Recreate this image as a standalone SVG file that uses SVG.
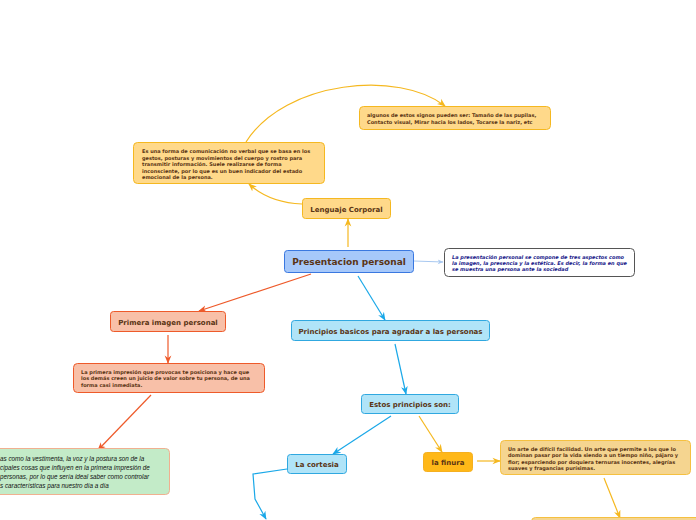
<svg xmlns="http://www.w3.org/2000/svg" width="696" height="520" viewBox="0 0 696 520">
<defs>
<style>
.t{font-family:"DejaVu Sans",Verdana,sans-serif;font-weight:bold;fill:#5a3414}
.s{font-family:"DejaVu Sans",Verdana,sans-serif;font-weight:bold;fill:#5a3414;font-size:5px}
.l{fill:none;stroke-width:1.2}
</style>
<marker id="ao" viewBox="0 0 10 10" refX="9" refY="5" markerWidth="7" markerHeight="7" orient="auto"><path d="M0,1 L10,5 L0,9 L3,5z" fill="#f5b820"/></marker>
<marker id="ar" viewBox="0 0 10 10" refX="9" refY="5" markerWidth="7" markerHeight="7" orient="auto"><path d="M0,1 L10,5 L0,9 L3,5z" fill="#ee5a2a"/></marker>
<marker id="ab" viewBox="0 0 10 10" refX="9" refY="5" markerWidth="7" markerHeight="7" orient="auto"><path d="M0,1 L10,5 L0,9 L3,5z" fill="#1aa8e8"/></marker>
<marker id="al" viewBox="0 0 10 10" refX="9" refY="5" markerWidth="5" markerHeight="5" orient="auto"><path d="M0,1 L10,5 L0,9 L3,5z" fill="#a8c8f0"/></marker>
</defs>
<rect width="696" height="520" fill="#fff"/>
<g id="connectors">
<path class="l" stroke="#f5b820" d="M348,247 L348,219" marker-end="url(#ao)"/>
<path class="l" stroke="#f5b820" d="M302,204 C280,203 262,196 249,184" marker-end="url(#ao)"/>
<path class="l" stroke="#f5b820" d="M246,142 C285,80 400,70 445,106" marker-end="url(#ao)"/>
<path class="l" stroke="#a8c8f0" d="M414,261 L443,262" marker-end="url(#al)"/>
<path class="l" stroke="#ee5a2a" d="M311,274 L199,311" marker-end="url(#ar)"/>
<path class="l" stroke="#1aa8e8" d="M358,276 L385,320" marker-end="url(#ab)"/>
<path class="l" stroke="#ee5a2a" d="M168,335 L168,363" marker-end="url(#ar)"/>
<path class="l" stroke="#ee5a2a" d="M151,395 L98,450" marker-end="url(#ar)"/>
<path class="l" stroke="#1aa8e8" d="M395,344 L406,394" marker-end="url(#ab)"/>
<path class="l" stroke="#1aa8e8" d="M391,416 L333,454" marker-end="url(#ab)"/>
<path class="l" stroke="#f5b820" d="M419,416 L442,452" marker-end="url(#ao)"/>
<path class="l" stroke="#f5b820" d="M477,461 L500,461" marker-end="url(#ao)"/>
<path class="l" stroke="#f5b820" d="M604,478 L620,518" marker-end="url(#ao)"/>
<path class="l" stroke="#1aa8e8" d="M287,469 L253,474 L255,499 L266,519" marker-end="url(#ab)"/>
</g>
<g id="n-presentacion">
<rect x="284.5" y="250.5" width="129" height="22" rx="3" fill="#a6c8fa" stroke="#3a78e0"/>
<text class="t" x="349" y="265" font-size="9" text-anchor="middle">Presentacion personal</text>
</g>
<g id="n-pres-desc">
<rect x="444.5" y="248.5" width="190" height="28" rx="4" fill="#fff" stroke="#555"/>
<text font-family="DejaVu Sans,Verdana,sans-serif" font-weight="bold" font-style="italic" font-size="5" fill="#1a1a8a"><tspan x="452" y="259">La presentación personal se compone de tres aspectos como</tspan><tspan x="452" y="265">la imagen, la presencia y la estética. Es decir, la forma en que</tspan><tspan x="452" y="271">se muestra una persona ante la sociedad</tspan></text>
</g>
<g id="n-lenguaje">
<rect x="302.5" y="198.5" width="88" height="20" rx="3" fill="#ffd98a" stroke="#f5b820"/>
<text class="t" x="346.5" y="211.5" font-size="7" text-anchor="middle">Lenguaje Corporal</text>
</g>
<g id="n-lenguaje-desc">
<rect x="133.5" y="142.5" width="191" height="41" rx="4" fill="#ffd98a" stroke="#f5b820"/>
<text class="s"><tspan x="142" y="153">Es una forma de comunicación no verbal que se basa en los</tspan><tspan x="142" y="159.5">gestos, posturas y movimientos del cuerpo y rostro para</tspan><tspan x="142" y="166">transmitir información. Suele realizarse de forma</tspan><tspan x="142" y="172.5">inconsciente, por lo que es un buen indicador del estado</tspan><tspan x="142" y="179">emocional de la persona.</tspan></text>
</g>
<g id="n-algunos">
<rect x="359.5" y="106.5" width="191" height="23" rx="4" fill="#ffd98a" stroke="#f5b820"/>
<text class="s"><tspan x="367" y="117">algunos de estos signos pueden ser: Tamaño de las pupilas,</tspan><tspan x="367" y="123.5">Contacto visual, Mirar hacia los lados, Tocarse la nariz, etc</tspan></text>
</g>
<g id="n-primera">
<rect x="110.5" y="311.5" width="115" height="20" rx="3" fill="#f8c0a8" stroke="#ee5a2a"/>
<text class="t" x="168" y="324.5" font-size="7" text-anchor="middle">Primera imagen personal</text>
</g>
<g id="n-primera-desc">
<rect x="73.5" y="363.5" width="191" height="29" rx="4" fill="#f8c0a8" stroke="#ee5a2a"/>
<text class="s"><tspan x="81" y="373.5">La primera impresión que provocas te posiciona y hace que</tspan><tspan x="81" y="380">los demás creen un juicio de valor sobre tu persona, de una</tspan><tspan x="81" y="386.5">forma casi inmediata.</tspan></text>
</g>
<g id="n-green">
<rect x="-5.5" y="448.5" width="175" height="46" rx="4" fill="#c3ebc8" stroke="#f0b090"/>
<text font-family="Liberation Sans,Arial,sans-serif" font-style="italic" font-size="6.3" fill="#111"><tspan x="0" y="461">as como la vestimenta, la voz y la postura son de la</tspan><tspan x="0" y="470">cipales cosas que influyen en la primera impresión de</tspan><tspan x="0" y="479">personas, por lo que sería ideal saber como controlar</tspan><tspan x="0" y="488">s características para nuestro día a día</tspan></text>
</g>
<g id="n-principios">
<rect x="291.5" y="320.5" width="198" height="20" rx="3" fill="#b0e4f8" stroke="#30a8e0"/>
<text class="t" x="390.5" y="333.5" font-size="7" text-anchor="middle">Principios basicos para agradar a las personas</text>
</g>
<g id="n-estos">
<rect x="361.5" y="394.5" width="97" height="19" rx="3" fill="#b0e4f8" stroke="#30a8e0"/>
<text class="t" x="410" y="407" font-size="7" text-anchor="middle">Estos principios son:</text>
</g>
<g id="n-cortesia">
<rect x="287.5" y="454.5" width="59" height="19" rx="3" fill="#b0e4f8" stroke="#30a8e0"/>
<text class="t" x="317" y="467" font-size="7" text-anchor="middle">La cortesia</text>
</g>
<g id="n-finura">
<rect x="423.5" y="452.5" width="49" height="19" rx="3" fill="#ffb818" stroke="#f5b020"/>
<text class="t" x="448" y="465" font-size="7" text-anchor="middle">la finura</text>
</g>
<g id="n-finura-desc">
<rect x="500.5" y="440.5" width="190" height="34" rx="4" fill="#f5d590" stroke="#f5c040"/>
<text class="s"><tspan x="508" y="450.5">Un arte de difícil facilidad. Un arte que permite a los que lo</tspan><tspan x="508" y="457">dominan pasar por la vida siendo a un tiempo niño, pájaro y</tspan><tspan x="508" y="463.5">flor; esparciendo por doquiera ternuras inocentes, alegrías</tspan><tspan x="508" y="470">suaves y fragancias purísimas.</tspan></text>
</g>
<g id="n-bottom">
<rect x="531.5" y="517.5" width="170" height="20" rx="4" fill="#f5d590" stroke="#f5c040"/>
</g>
</svg>
